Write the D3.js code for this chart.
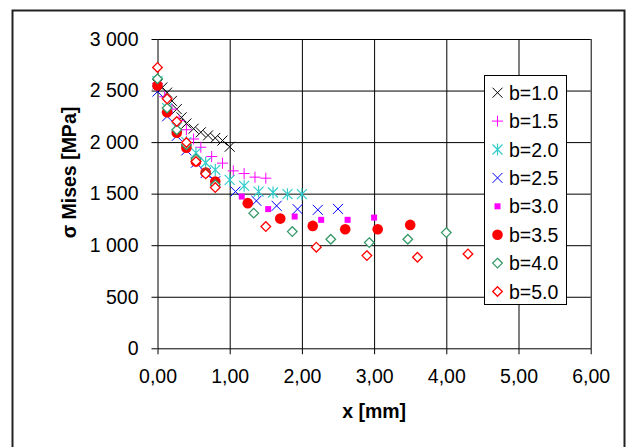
<!DOCTYPE html>
<html>
<head>
<meta charset="utf-8">
<script src="https://cdn.jsdelivr.net/npm/d3@7"></script>
<style>
body { margin: 0; background: #fff; }
text { font-family: 'Liberation Sans', Arial, sans-serif; }
</style>
</head>
<body>
<script>
// svg params
const svgW = 626;
const svgH = 447;
const pExtent = [ [ 157.5, 590.7 ], [ 39, 348.3 ] ];
const fontSize = 19.5;

// data
const xB10 = [ 0, 0.067, 0.133, 0.2, 0.267, 0.333, 0.4, 0.5, 0.6, 0.7, 0.8, 0.9, 1.0 ];
const sB10 = [ 2560, 2530, 2480, 2400, 2320, 2240, 2180, 2130, 2095, 2065, 2040, 2015, 1955 ];

const xB15 = [ 0, 0.1, 0.2, 0.3, 0.4, 0.5, 0.6, 0.75, 0.9, 1.05, 1.2, 1.35, 1.5 ];
const sB15 = [ 2570, 2440, 2320, 2210, 2120, 2030, 1950, 1860, 1796, 1721, 1695, 1660, 1650 ];

const xB20 = [ 0, 0.133, 0.267, 0.4, 0.533, 0.667, 0.8, 1.0, 1.2, 1.4, 1.6, 1.8, 2.0 ];
const sB20 = [ 2590, 2330, 2140, 2000, 1895, 1800, 1730, 1634, 1576, 1520, 1511, 1495, 1495 ];

const xB25 = [ 0, 0.133, 0.267, 0.4, 0.533, 0.667, 0.8, 1.08, 1.37, 1.65, 1.94, 2.22, 2.5 ];
const sB25 = [ 2490, 2250, 2060, 1920, 1800, 1700, 1620, 1520, 1430, 1382, 1350, 1343, 1352 ];

const xB30 = [ 0, 0.133, 0.267, 0.4, 0.533, 0.667, 0.8, 1.167, 1.533, 1.9, 2.267, 2.633, 3.0 ];
const sB30 = [ 2570, 2290, 2090, 1940, 1810, 1700, 1610, 1472, 1350, 1278, 1246, 1246, 1268 ];

const xB35 = [ 0, 0.133, 0.267, 0.4, 0.533, 0.667, 0.8, 1.25, 1.7, 2.15, 2.6, 3.05, 3.5 ];
const sB35 = [ 2550, 2290, 2090, 1945, 1812, 1705, 1617, 1408, 1258, 1187, 1155, 1155, 1197 ];

const xB40 = [ 0, 0.133, 0.267, 0.4, 0.533, 0.667, 0.8, 1.333, 1.867, 2.4, 2.933, 3.467, 4.0 ];
const sB40 = [ 2614, 2330, 2119, 1974, 1835, 1699, 1586, 1311, 1132, 1058, 1025, 1058, 1122 ];

const xB50 = [ 0, 0.133, 0.267, 0.4, 0.533, 0.667, 0.8, 1.5, 2.2, 2.9, 3.6, 4.3 ];
const sB50 = [ 2724, 2420, 2200, 1996, 1812, 1692, 1559, 1181, 981, 899, 883, 915 ];

const xTicks = [ 0, 1, 2, 3, 4, 5, 6 ];
const yTicks = [ 0, 500, 1000, 1500, 2000, 2500, 3000 ];

const series = [
	{ label: 'b=1.0', xs: xB10, ys: sB10, marker: 'times', color: '#000000' },
	{ label: 'b=1.5', xs: xB15, ys: sB15, marker: 'plus', color: '#ff00ff' },
	{ label: 'b=2.0', xs: xB20, ys: sB20, marker: 'star', color: '#33cccc' },
	{ label: 'b=2.5', xs: xB25, ys: sB25, marker: 'times', color: '#0000ff' },
	{ label: 'b=3.0', xs: xB30, ys: sB30, marker: 'square', color: '#ff00ff' },
	{ label: 'b=3.5', xs: xB35, ys: sB35, marker: 'circle', color: '#ff0000' },
	{ label: 'b=4.0', xs: xB40, ys: sB40, marker: 'diamond', color: '#339966' },
	{ label: 'b=5.0', xs: xB50, ys: sB50, marker: 'diamond', color: '#ff0000' }
];

const locale = d3.formatLocale({ decimal: ',', thousands: ' ', grouping: [ 3 ], currency: [ '', '' ] });

const x = d3.scaleLinear().domain([ 0, 6 ]).range(pExtent[0]);
const y = d3.scaleLinear().domain([ 0, 3000 ]).range([ pExtent[1][1], pExtent[1][0] ]);

const svg = d3.select('body').append('svg').attr('width', svgW).attr('height', svgH);

// chart border
svg
	.append('rect')
	.attr('x', 12.5)
	.attr('y', 10.5)
	.attr('width', 612)
	.attr('height', 440)
	.attr('fill', '#fff')
	.attr('stroke', '#222')
	.attr('stroke-width', 2);

const drawMarker = (g, type, color, cx, cy) => {
	const m = g.append('g').attr('transform', 'translate(' + cx + ',' + cy + ')');
	if (type === 'times') {
		m.append('path').attr('d', 'M-5,-5L5,5M-5,5L5,-5').attr('stroke', color).attr('fill', 'none');
	} else if (type === 'plus') {
		m.append('path').attr('d', 'M-5.5,0L5.5,0M0,-5.5L0,5.5').attr('stroke', color).attr('fill', 'none');
	} else if (type === 'star') {
		m
			.append('path')
			.attr('d', 'M-5,-5L5,5M-5,5L5,-5M0,-6L0,6')
			.attr('stroke', color)
			.attr('stroke-width', 1.2)
			.attr('fill', 'none');
	} else if (type === 'square') {
		m.append('rect').attr('x', -3).attr('y', -3).attr('width', 6).attr('height', 6).attr('fill', color);
	} else if (type === 'circle') {
		m.append('circle').attr('r', 5.3).attr('fill', color);
	} else if (type === 'diamond') {
		m
			.append('path')
			.attr('d', 'M0,-4.8L4.8,0L0,4.8L-4.8,0Z')
			.attr('stroke', color)
			.attr('stroke-width', 1.3)
			.attr('fill', '#fff');
	}
};

/*
	gridlines
*/
svg
	.append('g')
	.attr('transform', 'translate(' + pExtent[0][0] + ',0)')
	.call(d3.axisLeft(y).tickValues(yTicks.slice(1)).tickSize(-(pExtent[0][1] - pExtent[0][0])).tickFormat(''))
	.call((g) => g.select('.domain').remove())
	.call((g) => g.selectAll('line').attr('stroke', '#000'));

svg
	.append('g')
	.attr('transform', 'translate(0,' + pExtent[1][1] + ')')
	.call(d3.axisBottom(x).tickValues(xTicks.slice(1)).tickSize(-(pExtent[1][1] - pExtent[1][0])).tickFormat(''))
	.call((g) => g.select('.domain').remove())
	.call((g) => g.selectAll('line').attr('stroke', '#000'));

/*
	axes
*/
const yAxis = svg
	.append('g')
	.attr('transform', 'translate(' + pExtent[0][0] + ',0)')
	.call(d3.axisLeft(y).tickValues(yTicks).tickSize(6).tickSizeOuter(0).tickPadding(13).tickFormat(locale.format(',d')));

const xAxis = svg
	.append('g')
	.attr('transform', 'translate(0,' + pExtent[1][1] + ')')
	.call(d3.axisBottom(x).tickValues(xTicks).tickSize(6).tickSizeOuter(0).tickPadding(15).tickFormat(locale.format('.2f')));

[ yAxis, xAxis ].forEach((ax) => {
	ax.selectAll('text').attr('font-size', fontSize).attr('font-family', "'Liberation Sans', Arial, sans-serif").attr('fill', '#000');
	ax.selectAll('line, path').attr('stroke', '#000');
});

svg
	.append('text')
	.attr('x', x(3))
	.attr('y', 418)
	.attr('text-anchor', 'middle')
	.attr('font-size', fontSize)
	.attr('font-weight', 'bold')
	.text('x [mm]');

svg
	.append('text')
	.attr('transform', 'translate(76,172.5) rotate(-90)')
	.attr('text-anchor', 'middle')
	.attr('font-size', fontSize)
	.attr('font-weight', 'bold')
	.text('σ Mises [MPa]');

/*
	points
*/
const pts = svg.append('g');
series.forEach((s) => {
	s.xs.forEach((xv, i) => {
		drawMarker(pts, s.marker, s.color, x(xv), y(s.ys[i]));
	});
});

/*
	legend
*/
const legend = svg.append('g');
legend
	.append('rect')
	.attr('x', 484.5)
	.attr('y', 75.5)
	.attr('width', 82)
	.attr('height', 229)
	.attr('fill', '#fff')
	.attr('stroke', '#000');

series.forEach((s, si) => {
	const ly = 92.7 + si * 28.4;
	drawMarker(legend, s.marker, s.color, 497.5, ly);
	legend
		.append('text')
		.attr('x', 509)
		.attr('y', ly + 7)
		.attr('font-size', fontSize)
		.text(s.label);
});
</script>
</body>
</html>
